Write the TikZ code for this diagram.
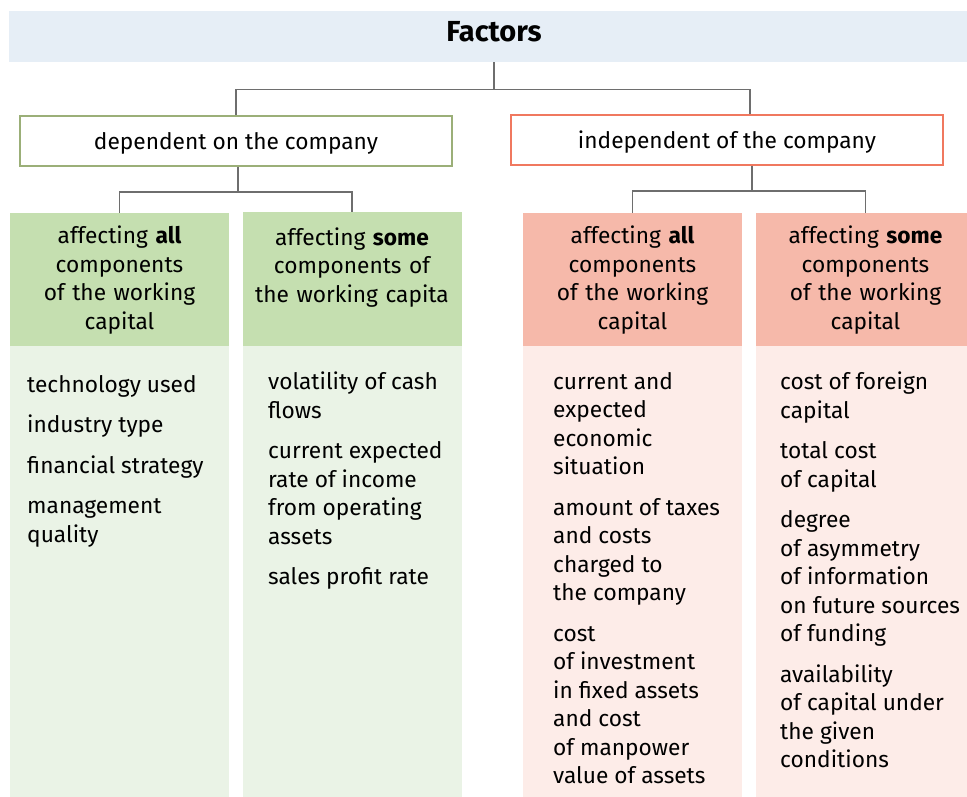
\documentclass[tikz,border=0pt]{standalone}
\usepackage{fontspec}
\setmainfont{Fira Sans}
\usepackage{tikz}
\usetikzlibrary{positioning,calc}
\definecolor{titlebg}{RGB}{230,238,246}
\definecolor{depline}{RGB}{155,175,120}
\definecolor{indline}{RGB}{240,120,95}
\definecolor{dephead}{RGB}{197,223,176}
\definecolor{depbody}{RGB}{234,243,230}
\definecolor{indhead}{RGB}{246,185,170}
\definecolor{indbody}{RGB}{253,236,232}
\definecolor{connline}{RGB}{110,110,110}
\tikzset{%
	every node/.style = {font=\fontsize{22.7}{28.5}\selectfont},
	titlebar/.style   = {fill=titlebg, minimum width=970pt, minimum height=51pt, text depth=10pt, font=\fontsize{29}{32}\selectfont\bfseries},
	groupbox/.style   = {draw, line width=1.8pt, fill=white, minimum width=432pt, minimum height=50pt, text depth=0pt},
	headbox/.style    = {minimum width=219pt, minimum height=134pt, text width=215pt, align=center, inner sep=0pt},
	bodybox/.style    = {minimum width=219pt, minimum height=470pt, anchor=north, inner sep=0pt},
	itemlist/.style   = {anchor=north west, align=left, inner sep=0pt},
	conn/.style       = {draw=connline, line width=1.2pt},
}
\begin{document}
\begin{tikzpicture}[x=1pt,y=-1pt]
	\useasboundingbox (0,0) rectangle (967,796);
	% title
	\node[titlebar] (title) at (494,36.5) {Factors};
	
	% first level
	\node[groupbox, draw=depline] (dep) at (236,141) {dependent on the company};
	\node[groupbox, draw=indline] (ind) at (727,140) {independent of the company};
	
	% headers
	\node[headbox, fill=dephead] (h1) at (119.5,280) {affecting \textbf{all}\\components\\of the working\\capital};
	\node[headbox, fill=dephead] (h2) at (352,279) {affecting \textbf{some}\\components of\\the working capita\\~};
	\node[headbox, fill=indhead] (h3) at (632.5,280) {affecting \textbf{all}\\components\\of the working\\capital};
	\node[headbox, fill=indhead] (h4) at (865.5,280) {affecting \textbf{some}\\components\\of the working\\capital};
	
	% bodies
	\node[bodybox, fill=depbody] (b1) at (119.5,346) {};
	\node[bodybox, fill=depbody] (b2) at (352,346) {};
	\node[bodybox, fill=indbody] (b3) at (632.5,346) {};
	\node[bodybox, fill=indbody] (b4) at (865.5,346) {};
	
	\node[itemlist] (l1) at (27,375) {technology used\\[12pt]industry type\\[12pt]financial strategy\\[12pt]management\\quality};
	\node[itemlist] (l2) at (268,372) {volatility of cash\\flows\\[12pt]current expected\\rate of income\\from operating\\assets\\[12pt]sales profit rate};
	\node[itemlist] (l3) at (553,372) {current and\\expected\\economic\\situation\\[12pt]amount of taxes\\and costs\\charged to\\the company\\[12pt]cost\\of investment\\in fixed assets\\and cost\\of manpower\\value of assets};
	\node[itemlist] (l4) at (780,372) {cost of foreign\\capital\\[12pt]total cost\\of capital\\[12pt]degree\\of asymmetry\\of information\\on future sources\\of funding\\[12pt]availability\\of capital under\\the given\\conditions};
	
	% connectors
	\draw[conn] (title.south) -- ++(0,27) coordinate (t1) -| (dep.north);
	\draw[conn] (t1) -| ([xshift=23pt]ind.north);
	\draw[conn] ([xshift=2pt]dep.south) -- ++(0,25) coordinate (d1) -| (h1.north);
	\draw[conn] (d1) -| (h2.north);
	\draw[conn] ([xshift=25pt]ind.south) -- ++(0,25) coordinate (i1) -| (h3.north);
	\draw[conn] (i1) -| (h4.north);
\end{tikzpicture}
\end{document}
